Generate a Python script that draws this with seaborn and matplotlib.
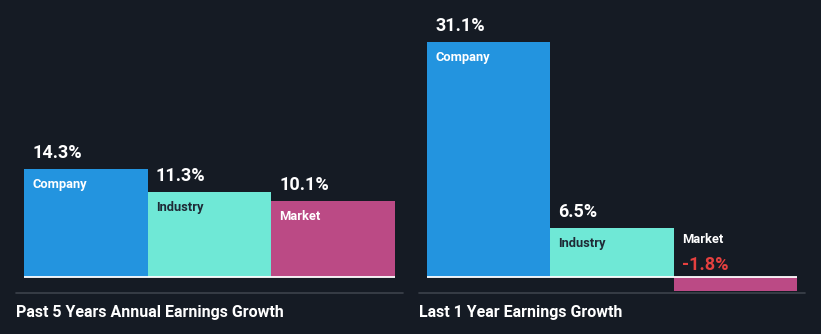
import matplotlib
matplotlib.use("Agg")
import matplotlib.pyplot as plt
from matplotlib.lines import Line2D
import seaborn as sns
import pandas as pd

categories = ["Company", "Industry", "Market"]
past_5y_growth = [14.3, 11.3, 10.1]
last_1y_growth = [31.1, 6.5, -1.8]
panel_titles = ["Past 5 Years Annual Earnings Growth", "Last 1 Year Earnings Growth"]

BG = "#151b24"
palette = {"Company": "#2394df", "Industry": "#6fe8d6", "Market": "#bb4a85"}
label_colors = {"Company": "#ffffff", "Industry": "#1f2a36", "Market": "#ffffff"}
NEG_COLOR = "#e5403f"

sns.set_theme(style="white")
plt.rcParams["font.family"] = ["Roboto", "DejaVu Sans"]

W, H = 821, 334
fig = plt.figure(figsize=(W / 100, H / 100), dpi=100, facecolor=BG)

PX_PER_UNIT_Y = 7.55
BASE_PX = 277
AX_TOP_PX, AX_BOT_PX = 0, 300
ymin = -(AX_BOT_PX - BASE_PX) / PX_PER_UNIT_Y
ymax = (BASE_PX - AX_TOP_PX) / PX_PER_UNIT_Y

panels = [(16, 403), (419, 805)]
pad_px = 8

for (x0, x1), values, title in zip(panels, [past_5y_growth, last_1y_growth], panel_titles):
    ax = fig.add_axes([x0 / W, 1 - AX_BOT_PX / H, (x1 - x0) / W, (AX_BOT_PX - AX_TOP_PX) / H])
    ax.set_facecolor(BG)
    df = pd.DataFrame({"cat": categories, "val": values})
    sns.barplot(data=df, x="cat", y="val", hue="cat", palette=palette, width=1.0,
                legend=False, ax=ax, saturation=1, linewidth=0)
    px_per_unit_x = ((x1 - x0) - 2 * pad_px) / 3
    pad_u = pad_px / px_per_unit_x
    ax.set_xlim(-0.5 - pad_u, 2.5 + pad_u)
    ax.set_ylim(ymin, ymax)
    ax.axis("off")
    # zero line
    ax.plot([-0.5, 2.5], [0, 0], color="white", lw=1.3, solid_capstyle="butt", zorder=5)

    tx = 8 / px_per_unit_x
    py = 1 / PX_PER_UNIT_Y
    for i, (cat, v) in enumerate(zip(categories, values)):
        left = i - 0.5 + tx
        if v >= 0:
            ax.text(left, v + 7 * py, f"{v:.1f}%", color="white", fontsize=13,
                    fontweight="bold", ha="left", va="bottom")
            ax.text(left, v - 9 * py, cat, color=label_colors[cat], fontsize=9.3,
                    fontweight="bold", ha="left", va="top")
        else:
            ax.text(left, 44 * py, cat, color="white", fontsize=9.3,
                    fontweight="bold", ha="left", va="top")
            ax.text(left, 21 * py, f"{v:.1f}%", color=NEG_COLOR, fontsize=13,
                    fontweight="bold", ha="left", va="top")

    # separator and panel title
    fig.add_artist(Line2D([x0 / W, x1 / W], [1 - 293 / H, 1 - 293 / H],
                          color="#3c424b", lw=1.2))
    fig.text(x0 / W, 1 - 312 / H, title, color="white", fontsize=11.5,
             fontweight="bold", ha="left", va="center")

fig.savefig("out.png", dpi=100, facecolor=BG)
